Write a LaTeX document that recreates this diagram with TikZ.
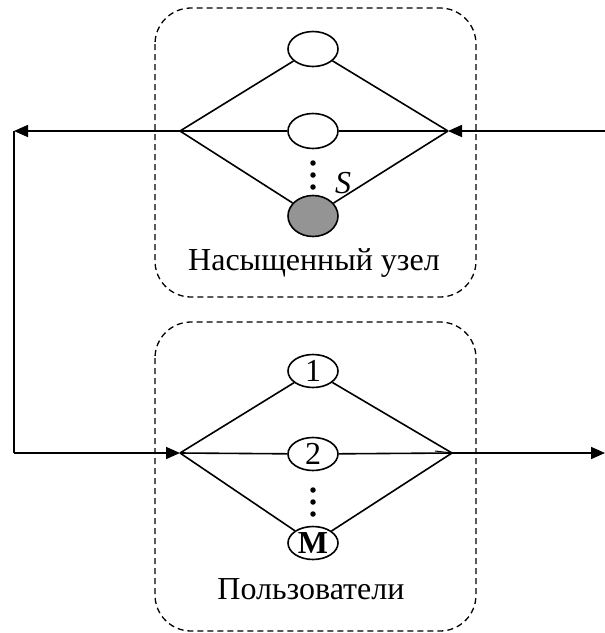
\documentclass[tikz,border=0pt]{standalone}
\usepackage{fontspec}
\setmainfont{Liberation Serif}
\usetikzlibrary{shapes.geometric,arrows.meta}
\begin{document}
\begin{tikzpicture}[x=1pt,y=-1pt,line width=1.6pt,
  qnode/.style={draw,ellipse,minimum width=50pt,minimum height=35pt,inner sep=0pt,font=\fontsize{32}{36}\selectfont},
  groupbox/.style={draw,dashed,dash pattern=on 6pt off 4pt,line width=1.3pt,rounded corners=36pt},
  lbl/.style={font=\fontsize{32}{36}\selectfont,inner sep=0pt},
  dotc/.style={circle,fill,inner sep=0pt,minimum size=5.5pt},
  arr/.style={-{Triangle[length=14pt,width=12pt]}}]
\useasboundingbox (0,0) rectangle (605,633);
% boxes
\draw[groupbox] (155,8) rectangle (476,297);
\draw[groupbox] (155,322) rectangle (476,631);
% top group
\node[qnode] (t1) at (313,49) {};
\node[qnode] (t2) at (313,131) {};
\node[qnode,fill=black!42,minimum height=41pt] (ts) at (313,216) {};
\node[dotc] (td1) at (313,163) {};
\node[dotc] (td2) at (313,175) {};
\node[dotc] (td3) at (313,187) {};
\node[lbl] (tS) at (343,183) {\itshape S};
\node[lbl] (tlab) at (314,263) {Насыщенный узел};
\coordinate (tl) at (180,131);
\coordinate (tr) at (448,131);
\coordinate (tleft) at (14,131);
\coordinate (tright) at (605,131);
\draw (tl) -- (t1) -- (tr);
\draw (tl) -- (t2) -- (tr);
\draw (tl) -- (ts) -- (tr);
\draw[arr] (tright) -- (tr);
\draw[arr] (tl) -- (tleft);
% bottom group
\node[qnode,minimum height=33pt] (b1) at (313,371) {1};
\node[qnode,minimum height=33pt] (b2) at (313,454) {2};
\node[qnode,minimum height=33pt] (bm) at (313,543) {\textbf{M}};
\node[dotc] (bd1) at (313,490) {};
\node[dotc] (bd2) at (313,502) {};
\node[dotc] (bd3) at (313,514) {};
\node[lbl] (blab) at (311,589) {Пользователи};
\coordinate (bl) at (180,453);
\coordinate (br) at (452,453);
\coordinate (bleft) at (14,453);
\coordinate (bright) at (605,453);
\coordinate (bx) at (435,451);
\draw (bl) -- (b1) -- (br);
\draw (bl) -- (b2) -- (br);
\draw (bl) -- (bm) -- (br);
\draw[line width=1pt] (bx) -- (br);
\draw (tleft) -- (bleft);
\draw[arr] (bleft) -- (bl);
\draw[arr] (br) -- (bright);
\end{tikzpicture}
\end{document}
